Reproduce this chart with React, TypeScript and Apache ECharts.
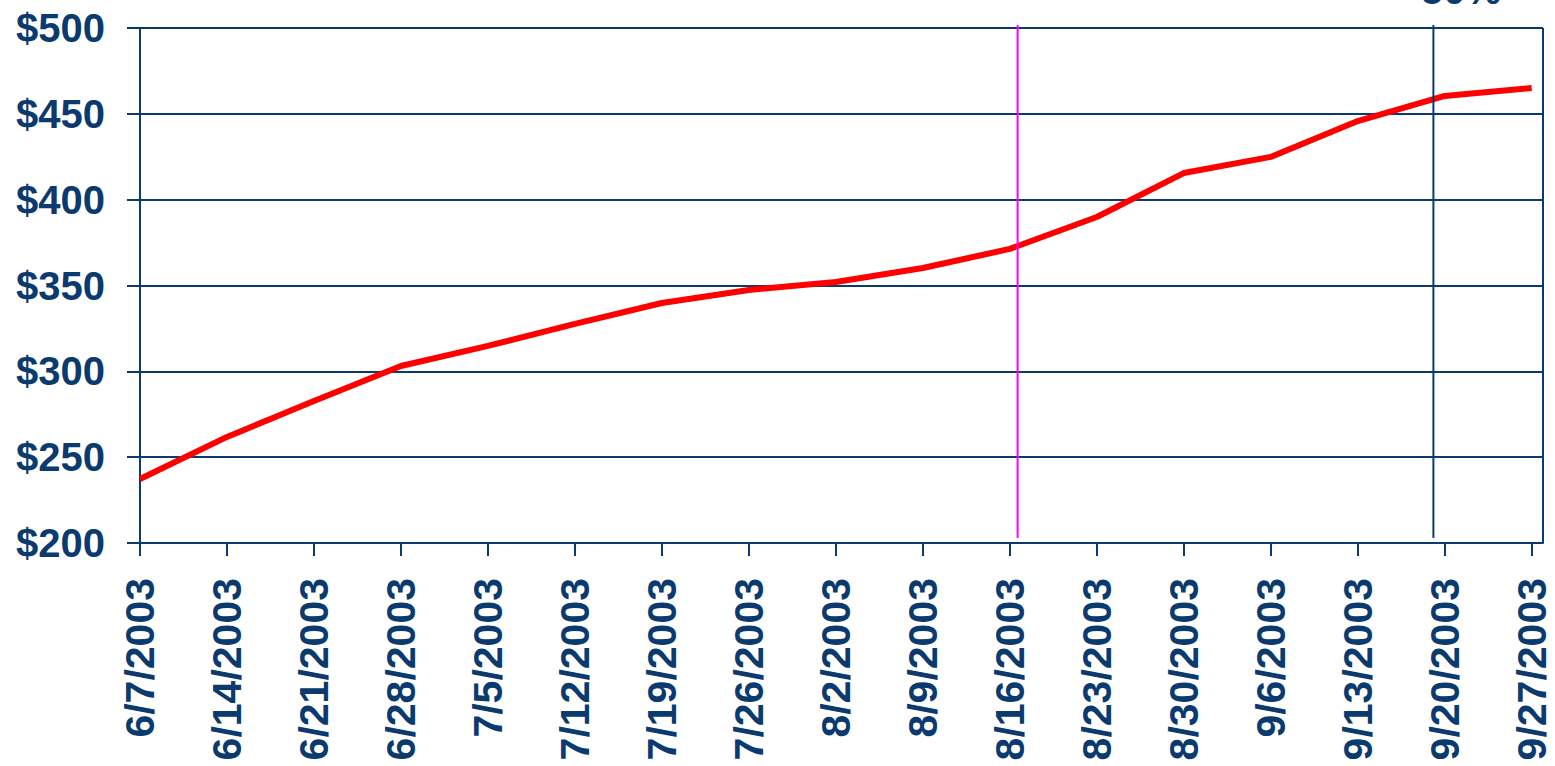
import React, { useEffect, useRef } from "react";
import * as echarts from "echarts";

const categories = [
  "6/7/2003", "6/14/2003", "6/21/2003", "6/28/2003", "7/5/2003", "7/12/2003",
  "7/19/2003", "7/26/2003", "8/2/2003", "8/9/2003", "8/16/2003", "8/23/2003",
  "8/30/2003", "9/6/2003", "9/13/2003", "9/20/2003", "9/27/2003",
];
const values = [
  237.3, 261.8, 282.7, 303.1, 314.8, 327.6, 339.8, 347.4, 352.0, 360.2,
  371.3, 389.9, 415.5, 424.9, 445.8, 460.4, 465.0,
];
const yMin = 200;
const yMax = 500;
const yStep = 50;
const xMax = 16.13;
const magentaLineX = 10.09;
const navyLineX = 14.87;
const markTop = 501.7;
const markBottom = 202.9;
const topLabel = "50%";

const NAVY = "#0b3a6e";
const FONT = "Liberation Sans, Arial, sans-serif";

export default function App() {
  const ref = useRef<HTMLDivElement>(null);
  useEffect(() => {
    if (!ref.current) return;
    const chart = echarts.init(ref.current, undefined, { renderer: "svg" });
    const data = values.map((v, i) => [i, v]);
    chart.setOption({
      animation: false,
      grid: { left: 140, top: 28, right: 12, bottom: 223, containLabel: false },
      xAxis: {
        type: "value",
        min: 0,
        max: xMax,
        interval: 1,
        axisLine: { show: true, onZero: false, lineStyle: { color: NAVY, width: 2 } },
        axisTick: { show: true, length: 13, lineStyle: { color: NAVY, width: 2 } },
        splitLine: { show: false },
        axisLabel: {
          rotate: 90,
          margin: 35,
          color: NAVY,
          fontSize: 41,
          fontWeight: "bold",
          fontFamily: FONT,
          showMaxLabel: false,
          formatter: (v: number) => {
            const i = Math.round(v);
            return Math.abs(v - i) < 1e-6 && categories[i] ? categories[i] : "";
          },
        },
      },
      yAxis: {
        type: "value",
        min: yMin,
        max: yMax,
        interval: yStep,
        axisLine: { show: true, lineStyle: { color: NAVY, width: 2 } },
        axisTick: { show: true, length: 13, lineStyle: { color: NAVY, width: 2 } },
        splitLine: { show: true, lineStyle: { color: NAVY, width: 2 } },
        axisLabel: {
          margin: 35,
          color: NAVY,
          fontSize: 40,
          fontWeight: "bold",
          fontFamily: FONT,
          formatter: (v: number) => "$" + v,
        },
      },
      series: [
        {
          type: "line",
          data,
          symbol: "none",
          lineStyle: { color: "#ff0000", width: 6 },
          z: 3,
        },
      ],
    });

    const m1 = chart.convertToPixel({ gridIndex: 0 }, [magentaLineX, markTop]) as number[];
    const m2 = chart.convertToPixel({ gridIndex: 0 }, [magentaLineX, markBottom]) as number[];
    const n1 = chart.convertToPixel({ gridIndex: 0 }, [navyLineX, markTop]) as number[];
    const n2 = chart.convertToPixel({ gridIndex: 0 }, [navyLineX, markBottom]) as number[];
    const rTop = chart.convertToPixel({ gridIndex: 0 }, [xMax, yMax]) as number[];
    const rBot = chart.convertToPixel({ gridIndex: 0 }, [xMax, yMin]) as number[];

    chart.setOption({
      graphic: [
        {
          type: "line",
          shape: { x1: rTop[0], y1: rTop[1], x2: rBot[0], y2: rBot[1] },
          style: { stroke: NAVY, lineWidth: 2 },
          silent: true,
        },
        {
          type: "line",
          shape: { x1: m1[0], y1: m1[1], x2: m2[0], y2: m2[1] },
          style: { stroke: "#ff00ff", lineWidth: 2 },
          silent: true,
          z: 10,
        },
        {
          type: "line",
          shape: { x1: n1[0], y1: n1[1], x2: n2[0], y2: n2[1] },
          style: { stroke: NAVY, lineWidth: 2 },
          silent: true,
          z: 10,
        },
        {
          type: "text",
          x: 1461,
          y: -10,
          style: {
            text: topLabel,
            fill: NAVY,
            fontSize: 40,
            fontWeight: "bold",
            fontFamily: FONT,
            align: "center",
            verticalAlign: "middle",
          },
        },
      ],
    });
    return () => chart.dispose();
  }, []);
  return <div ref={ref} style={{ width: 1555, height: 766, position: "absolute", left: 0, top: 0 }} />;
}
